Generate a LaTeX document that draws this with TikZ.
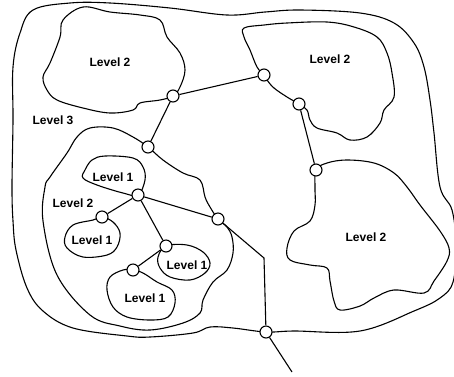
\documentclass[tikz,border=0pt]{standalone}
\usepackage{fontspec}
\setmainfont{Liberation Sans}
\begin{document}
\begin{tikzpicture}[x=1pt,y=-1pt,line width=1.1pt,
    port/.style={circle,draw,fill=white,inner sep=0pt,minimum size=12pt},
    lbl/.style={font=\fontsize{12}{14}\selectfont\bfseries}]
           \useasboundingbox (0,0) rectangle (454,376);

           \coordinate (p1) at (173,96);
           \coordinate (p2) at (148,147);
           \coordinate (p3) at (264,75);
           \coordinate (p4) at (299,104);
           \coordinate (p5) at (316,170);
           \coordinate (p6) at (218,219);
           \coordinate (p7) at (266,332);
           \coordinate (hub) at (138,195);
           \coordinate (pb) at (102,217);
           \coordinate (pc) at (166,246);
           \coordinate (pd) at (133,270);

           % level 3
           \draw plot[smooth cycle,tension=.6] coordinates {
             (33,10) (70,3) (110,3) (170,8) (227,15) (265,12) (300,10) (360,13)
             (394,23) (414,43) (424,67) (430,100) (434,133) (440,187) (452,210)
             (456,245) (453,282) (440,298) (414,311) (360,331) (294,331) (p7)
             (233,328) (210,327) (193,333) (150,337) (127,336) (73,328) (43,311)
             (27,288) (16,250) (13,221) (12,187) (13,120) (13,67) (20,33)};

           % level 2
           \draw plot[smooth cycle,tension=.6] coordinates {
             (63,20) (83,7) (110,12) (140,15) (160,20) (167,37) (180,53) (185,70)
             (180,87) (p1) (160,100) (140,103) (133,110) (110,113) (83,108)
             (57,100) (47,90) (43,77) (50,63) (60,37)};
           \draw plot[smooth cycle,tension=.6] coordinates {
             (p3) (257,67) (250,50) (244,37) (244,28) (264,25) (287,23) (327,22)
             (354,27) (377,37) (387,53) (392,73) (394,97) (384,110) (380,123)
             (367,137) (350,140) (337,133) (317,128) (310,120) (307,110) (p4)
             (287,97) (274,88) (267,80)};
           \draw plot[smooth cycle,tension=.6] coordinates {
             (p5) (327,163) (347,160) (374,163) (394,173) (407,187) (420,205)
             (440,231) (449,248) (447,261) (434,281) (424,293) (394,290)
             (374,298) (360,306) (340,310) (334,301) (330,281) (327,268)
             (310,265) (290,260) (287,248) (294,231) (310,221) (315,205)
             (315,188)};
           \draw plot[smooth cycle,tension=.6] coordinates {
             (p2) (163,160) (183,173) (200,180) (205,197) (210,207) (p6)
             (227,227) (232,237) (233,253) (227,270) (213,282) (203,300)
             (200,313) (183,323) (150,330) (120,326) (90,315) (57,275) (43,221)
             (45,187) (50,177) (67,153) (77,137) (90,128) (113,128) (133,137)};

           % level 1
           \draw plot[smooth cycle,tension=.6] coordinates {
             (85,170) (92,160) (105,156) (133,158) (143,167) (145,180) (hub)
             (123,193) (97,185) (83,178)};
           \draw plot[smooth cycle,tension=.6] coordinates {
             (pb) (113,222) (120,233) (117,247) (107,255) (83,257) (67,248)
             (65,237) (73,225) (93,220)};
           \draw plot[smooth cycle,tension=.6] coordinates {
             (pc) (187,245) (203,252) (210,263) (205,273) (190,280) (170,277)
             (160,268) (158,257)};
           \draw plot[smooth cycle,tension=.6] coordinates {
             (pd) (143,273) (157,282) (172,290) (175,303) (168,317) (150,320)
             (127,317) (113,307) (107,290) (110,277) (123,270)};

           \node[port] (n1) at (p1) {};
           \node[port] (n2) at (p2) {};
           \node[port] (n3) at (p3) {};
           \node[port] (n4) at (p4) {};
           \node[port] (n5) at (p5) {};
           \node[port] (n6) at (p6) {};
           \node[port] (n7) at (p7) {};
           \node[port] (h) at (hub) {};
           \node[port] (nb) at (pb) {};
           \node[port] (nc) at (pc) {};
           \node[port] (nd) at (pd) {};
           \coordinate (bend) at (264,258);
           \coordinate (exit) at (292,372);

           \draw (n1) -- (n2);
           \draw (n1) -- (n3);
           \draw (n4) -- (n5);
           \draw (h) -- (n6);
           \draw (n6) -- (bend) -- (n7);
           \draw (n7) -- (exit);
           \draw (h) -- (nb);
           \draw (h) -- (nc);
           \draw (nc) -- (nd);

           \node[lbl] (l2a) at (110,62) {Level 2};
           \node[lbl] (l2b) at (330,59) {Level 2};
           \node[lbl] (l2c) at (366,237) {Level 2};
           \node[lbl] (l3) at (53,120) {Level 3};
           \node[lbl] (l2d) at (73,203) {Level 2};
           \node[lbl] (l1a) at (113,177) {Level 1};
           \node[lbl] (l1b) at (92,240) {Level 1};
           \node[lbl] (l1c) at (187,265) {Level 1};
           \node[lbl] (l1d) at (145,298) {Level 1};
         \end{tikzpicture}
\end{document}
